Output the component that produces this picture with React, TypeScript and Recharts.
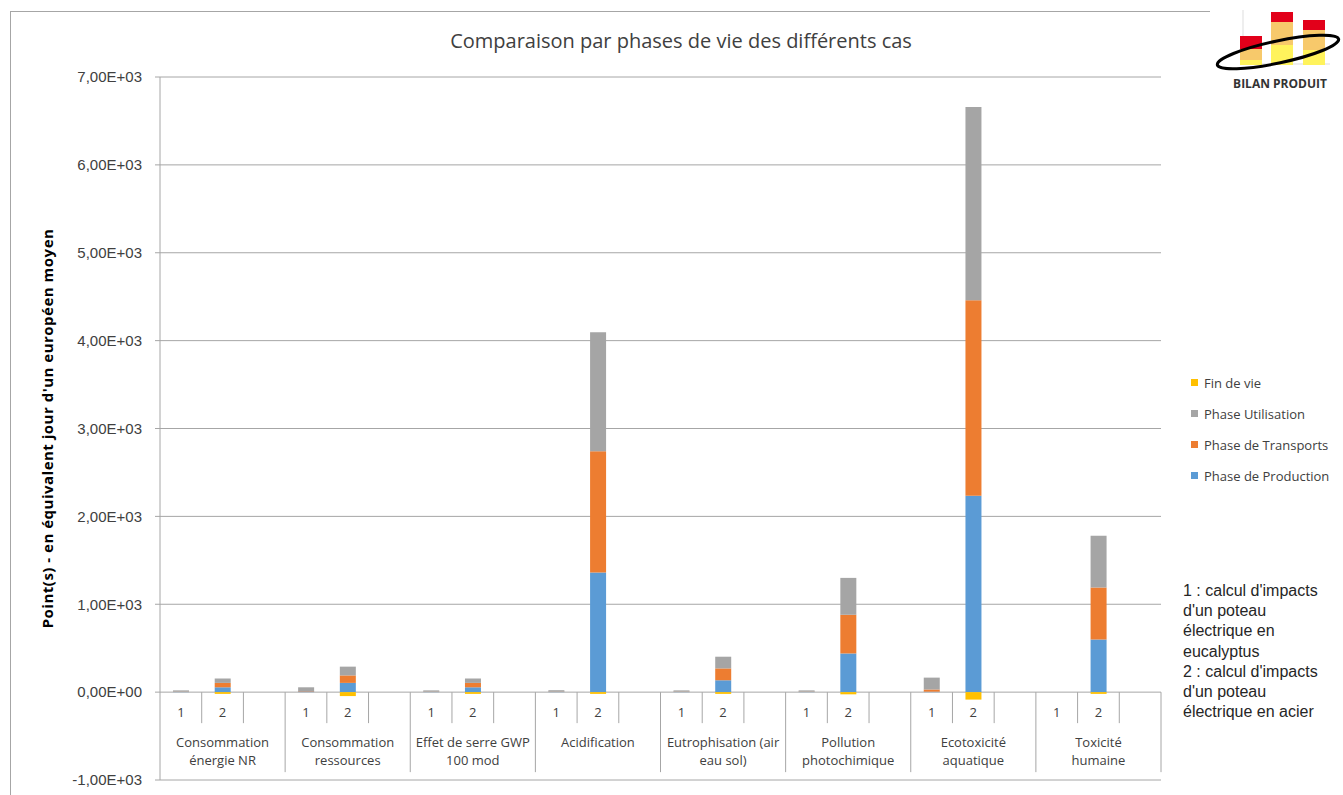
import React from 'react';
import { BarChart, Bar, XAxis, YAxis, CartesianGrid, Legend } from 'recharts';

// categories (two-line labels) and the three slots of each group
const GROUPS = [
  ['Consommation', 'énergie NR'],
  ['Consommation', 'ressources'],
  ['Effet de serre GWP', '100 mod'],
  ['Acidification'],
  ['Eutrophisation (air', 'eau sol)'],
  ['Pollution', 'photochimique'],
  ['Ecotoxicité', 'aquatique'],
  ['Toxicité', 'humaine'],
];
const CASES = ['1', '2', ''];

// case 1 : poteau en eucalyptus
const PRODUCTION_1 = [5, 8, 5, 5, 4, 4, 5, 0];
const TRANSPORT_1 = [3, 5, 3, 3, 3, 3, 25, 0];
const UTILISATION_1 = [12, 42, 12, 14, 13, 13, 135, 0];
const FIN_DE_VIE_1 = [0, 0, 0, 0, 0, 0, 0, 0];

// case 2 : poteau en acier
const PRODUCTION_2 = [55, 105, 55, 1360, 135, 440, 2235, 600];
const TRANSPORT_2 = [50, 85, 50, 1380, 135, 440, 2225, 590];
const UTILISATION_2 = [50, 100, 50, 1355, 133, 420, 2200, 590];
const FIN_DE_VIE_2 = [-20, -45, -20, -20, -20, -25, -85, -20];

const Y_TICKS = [-1000, 0, 1000, 2000, 3000, 4000, 5000, 6000, 7000];

const SERIES = [
  { key: 'production', name: 'Phase de Production', color: '#5b9bd5' },
  { key: 'transport', name: 'Phase de Transports', color: '#ed7d31' },
  { key: 'utilisation', name: 'Phase Utilisation', color: '#a5a5a5' },
  { key: 'finDeVie', name: 'Fin de vie', color: '#ffc000' },
];
const LEGEND_ORDER = ['Fin de vie', 'Phase Utilisation', 'Phase de Transports', 'Phase de Production'];

const pick = (ci: number, a: number[], b: number[], gi: number) =>
  ci === 0 ? a[gi] : ci === 1 ? b[gi] : null;

const rows = GROUPS.flatMap((group, gi) =>
  CASES.map((c, ci) => ({
    key: `${gi}-${ci}`,
    caseLabel: c,
    slot: ci,
    group,
    production: pick(ci, PRODUCTION_1, PRODUCTION_2, gi),
    transport: pick(ci, TRANSPORT_1, TRANSPORT_2, gi),
    utilisation: pick(ci, UTILISATION_1, UTILISATION_2, gi),
    finDeVie: pick(ci, FIN_DE_VIE_1, FIN_DE_VIE_2, gi),
  }))
);

const W = 1343;
const H = 795;
const X_AXIS_H = 10;
const MARGIN = { top: 77, right: 182, bottom: 5, left: 10 };
const Y_AXIS_W = 150;
const PLOT_W = W - MARGIN.left - Y_AXIS_W - MARGIN.right;
const PLOT_H = H - MARGIN.top - MARGIN.bottom - X_AXIS_H;
const SLOT_W = PLOT_W / rows.length;
const ZERO_Y = MARGIN.top + (7000 / 8000) * PLOT_H;

const GRID = '#a6a6a6';
const TEXT = '#404040';
const CAL = '"Open Sans", "Noto Sans", sans-serif';

const sci = (v: number) => {
  if (v === 0) return '0,00E+00';
  const e = Math.floor(Math.log10(Math.abs(v)));
  const m = (v / Math.pow(10, e)).toFixed(2).replace('.', ',');
  return `${m}E${e >= 0 ? '+' : '-'}${String(Math.abs(e)).padStart(2, '0')}`;
};

const CategoryTick = (props: any) => {
  const { x, payload } = props;
  const row = rows[payload.index];
  if (!row) return null;
  const right = x + SLOT_W / 2;
  return (
    <g>
      <text x={x} y={ZERO_Y + 25} textAnchor="middle" fontSize={13} fontFamily={CAL} fill={TEXT}>
        {row.caseLabel}
      </text>
      <line
        x1={right}
        x2={right}
        y1={ZERO_Y}
        y2={row.slot === 2 ? ZERO_Y + 80 : ZERO_Y + 31}
        stroke={GRID}
      />
      {row.slot === 1 &&
        row.group.map((line, i) => (
          <text
            key={i}
            x={x}
            y={ZERO_Y + 55 + i * 18}
            textAnchor="middle"
            fontSize={13}
            fontFamily={CAL}
            fill={TEXT}
          >
            {line}
          </text>
        ))}
    </g>
  );
};

const YTitle = (props: any) => {
  const { viewBox } = props;
  const cx = viewBox.x + 37;
  const cy = viewBox.y + viewBox.height / 2;
  return (
    <text
      x={cx}
      y={cy}
      transform={`rotate(-90 ${cx} ${cy})`}
      textAnchor="middle"
      dominantBaseline="central"
      fontSize={15}
      fontWeight={700}
      letterSpacing={0.5}
      fontFamily={CAL}
      fill="#000"
    >
      Point(s)  - en équivalent jour d'un européen moyen
    </text>
  );
};

const LegendBox = (props: any) => {
  const payload = props.payload || [];
  return (
    <div style={{ fontFamily: CAL, fontSize: 13, color: TEXT }}>
      {LEGEND_ORDER.map((name) => {
        const p = payload.find((it: any) => it.value === name);
        return (
          <div key={name} style={{ display: 'flex', alignItems: 'center', height: 31 }}>
            <span
              style={{ width: 7, height: 7, background: p ? p.color : '#ccc', marginRight: 6, display: 'inline-block' }}
            />
            <span style={{ whiteSpace: 'nowrap' }}>{name}</span>
          </div>
        );
      })}
    </div>
  );
};

const Logo = () => (
  <svg width={133} height={100} style={{ position: 'absolute', left: 1210, top: 0, background: '#fff' }}>
    <line x1={33} y1={10} x2={33} y2={64} stroke="#ddd" />
    <line x1={33} y1={64} x2={120} y2={64} stroke="#ddd" />
    <rect x={30} y={60} width={22} height={5} fill="#fff35c" />
    <rect x={30} y={49} width={22} height={11} fill="#f7c96b" />
    <rect x={30} y={36} width={22} height={13} fill="#e2001a" />
    <rect x={61} y={45} width={22} height={20} fill="#fff35c" />
    <rect x={61} y={22} width={22} height={23} fill="#f7c96b" />
    <rect x={61} y={12} width={22} height={10} fill="#e2001a" />
    <rect x={93} y={50} width={22} height={15} fill="#fff35c" />
    <rect x={93} y={30} width={22} height={20} fill="#f7c96b" />
    <rect x={93} y={20} width={22} height={10} fill="#e2001a" />
    <ellipse cx={68} cy={52} rx={62} ry={11} transform="rotate(-12 68 52)" fill="none" stroke="#000" strokeWidth={3} />
    <text x={70} y={88} textAnchor="middle" fontSize={12} fontWeight={700} fontFamily={CAL} fill="#333">
      BILAN PRODUIT
    </text>
  </svg>
);

export default function App() {
  return (
    <div style={{ position: 'absolute', left: 0, top: 0, width: W, height: H, background: '#fff', overflow: 'hidden' }}>
      <div
        style={{
          position: 'absolute',
          left: 10,
          top: 11,
          width: W,
          height: H,
          borderTop: `1px solid ${GRID}`,
          borderLeft: `1px solid ${GRID}`,
        }}
      />
      <div
        style={{
          position: 'absolute',
          left: 381,
          top: 28,
          width: 600,
          textAlign: 'center',
          fontFamily: CAL,
          fontSize: 20,
          lineHeight: '26px',
          color: TEXT,
        }}
      >
        Comparaison par phases de vie des différents cas
      </div>
      <div style={{ position: 'absolute', left: 0, top: 0 }}>
        <BarChart width={W} height={H} data={rows} margin={MARGIN} stackOffset="sign">
          <CartesianGrid vertical={false} stroke={GRID} />
          <XAxis
            dataKey="key"
            interval={0}
            axisLine={false}
            tickLine={false}
            height={X_AXIS_H}
            tick={<CategoryTick />}
          />
          <YAxis
            type="number"
            domain={[-1000, 7000]}
            ticks={Y_TICKS}
            interval={0}
            width={Y_AXIS_W}
            axisLine={{ stroke: GRID }}
            tickLine={{ stroke: GRID }}
            tickSize={5}
            tickMargin={13}
            tickFormatter={sci}
            tick={{ fill: TEXT, fontSize: 15, fontFamily: '"Liberation Sans", Arial, sans-serif' }}
            label={(p: any) => <YTitle {...p} />}
          />
          <Legend
            layout="vertical"
            align="center"
            verticalAlign="middle"
            wrapperStyle={{ left: 1191, top: 367, width: 150 }}
            content={(p: any) => <LegendBox {...p} />}
          />
          {SERIES.map((s) => (
            <Bar
              key={s.key}
              dataKey={s.key}
              name={s.name}
              stackId="a"
              fill={s.color}
              barSize={16}
              isAnimationActive={false}
            />
          ))}
        </BarChart>
      </div>
      <div
        style={{
          position: 'absolute',
          left: 1183,
          top: 581,
          width: 160,
          fontFamily: '"Liberation Sans", Arial, sans-serif',
          fontSize: 16,
          lineHeight: '20.2px',
          color: '#262626',
        }}
      >
        1 : calcul d'impacts
        <br />
        d'un poteau
        <br />
        électrique en
        <br />
        eucalyptus
        <br />
        2 : calcul d'impacts
        <br />
        d'un poteau
        <br />
        électrique en acier
      </div>
      <Logo />
    </div>
  );
}
